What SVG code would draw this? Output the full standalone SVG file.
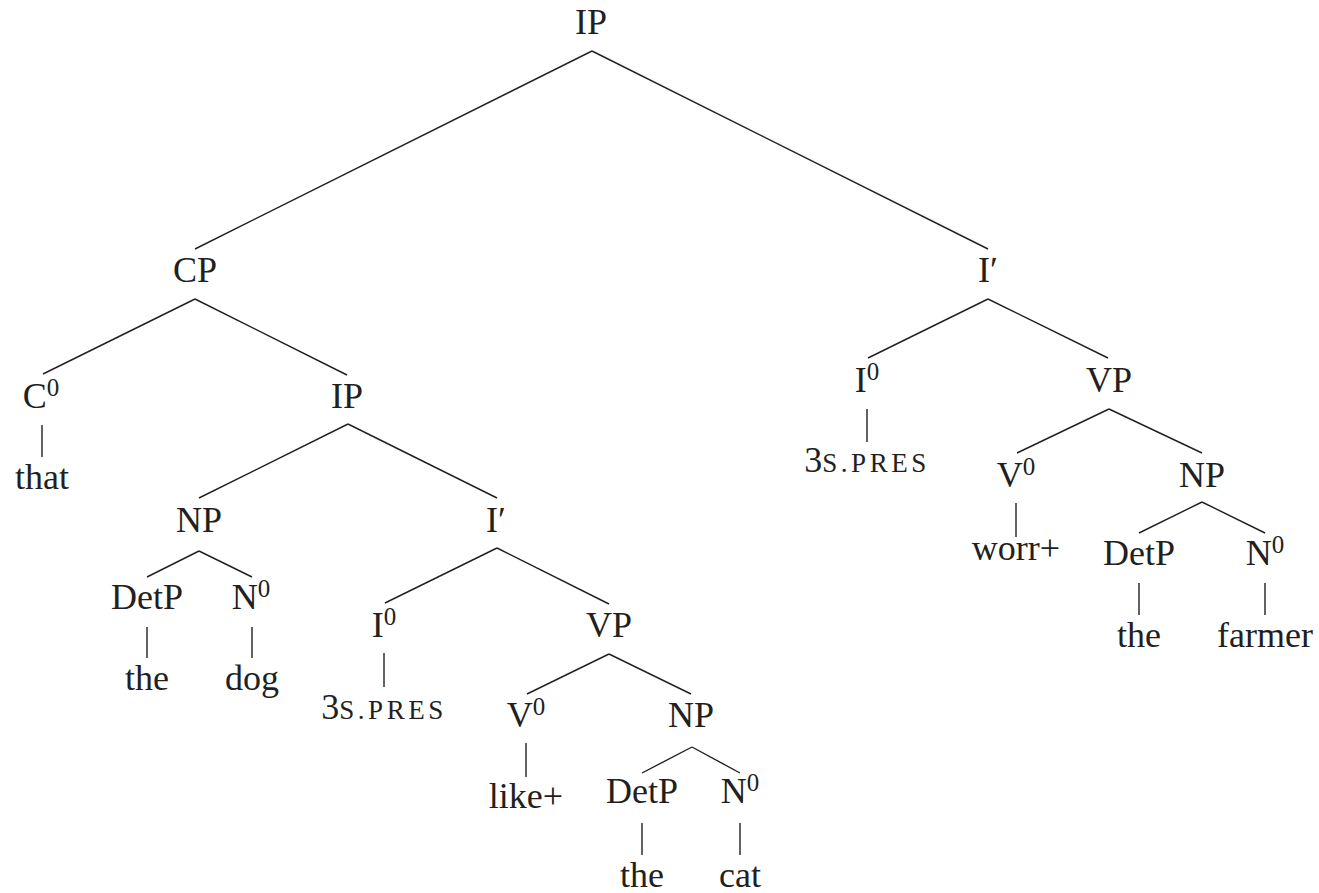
<svg xmlns="http://www.w3.org/2000/svg" width="1319" height="893" viewBox="0 0 1319 893" font-family="Liberation Serif, DejaVu Serif, serif">
<style>
text{font-size:36px;fill:#231f20;text-anchor:middle}
.sup{font-size:25px}
.sc{font-size:27px;letter-spacing:3.5px}
line{stroke:#231f20;stroke-width:1.4}
</style>
<rect width="1319" height="893" fill="#fff"/>
<g id="connectors">
<line x1="592" y1="51" x2="195" y2="249"/>
<line x1="592" y1="51" x2="988" y2="249"/>
<line x1="195" y1="299" x2="43" y2="374"/>
<line x1="195" y1="299" x2="347" y2="375"/>
<line x1="42" y1="425" x2="42" y2="457"/>
<line x1="348" y1="424" x2="199" y2="498"/>
<line x1="348" y1="424" x2="497" y2="498"/>
<line x1="199" y1="551" x2="147" y2="577"/>
<line x1="199" y1="551" x2="252" y2="577"/>
<line x1="147" y1="627" x2="147" y2="658"/>
<line x1="252" y1="627" x2="252" y2="658"/>
<line x1="497" y1="548" x2="385" y2="603"/>
<line x1="497" y1="548" x2="609" y2="604"/>
<line x1="384" y1="653" x2="384" y2="687"/>
<line x1="609" y1="654" x2="527" y2="694"/>
<line x1="609" y1="654" x2="691" y2="694"/>
<line x1="526" y1="743" x2="526" y2="777"/>
<line x1="692" y1="747" x2="642" y2="773"/>
<line x1="692" y1="747" x2="740" y2="773"/>
<line x1="642" y1="823" x2="642" y2="855"/>
<line x1="740" y1="823" x2="740" y2="855"/>
<line x1="988" y1="299" x2="868" y2="358"/>
<line x1="988" y1="299" x2="1108" y2="358"/>
<line x1="867" y1="409" x2="867" y2="442"/>
<line x1="1109" y1="409" x2="1017" y2="453"/>
<line x1="1109" y1="409" x2="1202" y2="453"/>
<line x1="1016" y1="503" x2="1016" y2="537"/>
<line x1="1202" y1="502" x2="1139" y2="533"/>
<line x1="1202" y1="502" x2="1265" y2="533"/>
<line x1="1139" y1="583" x2="1139" y2="615"/>
<line x1="1265" y1="583" x2="1265" y2="615"/>
</g>
<g id="n-ip-root"><text x="591" y="34">IP</text></g>
<g id="n-cp"><text x="195" y="282">CP</text></g>
<g id="n-c0"><text x="41" y="408">C<tspan class="sup" dy="-12">0</tspan></text></g>
<g id="n-that"><text x="42" y="489">that</text></g>
<g id="n-ip2"><text x="347" y="408">IP</text></g>
<g id="n-np1"><text x="199" y="532">NP</text></g>
<g id="n-detp1"><text x="147" y="609">DetP</text></g>
<g id="n-n01"><text x="251" y="609">N<tspan class="sup" dy="-12">0</tspan></text></g>
<g id="n-the1"><text x="147" y="690">the</text></g>
<g id="n-dog"><text x="252" y="690">dog</text></g>
<g id="n-ibar1"><text x="496" y="532">I′</text></g>
<g id="n-i01"><text x="384" y="637">I<tspan class="sup" dy="-12">0</tspan></text></g>
<g id="n-pres1"><text x="384" y="719">3<tspan class="sc">S.PRES</tspan></text></g>
<g id="n-vp1"><text x="609" y="637">VP</text></g>
<g id="n-v01"><text x="526" y="727">V<tspan class="sup" dy="-12">0</tspan></text></g>
<g id="n-like"><text x="526" y="808">like+</text></g>
<g id="n-np2"><text x="691" y="727">NP</text></g>
<g id="n-detp2"><text x="642" y="803">DetP</text></g>
<g id="n-n02"><text x="740" y="803">N<tspan class="sup" dy="-12">0</tspan></text></g>
<g id="n-the2"><text x="642" y="887">the</text></g>
<g id="n-cat"><text x="740" y="887">cat</text></g>
<g id="n-ibar2"><text x="988" y="282">I′</text></g>
<g id="n-i02"><text x="867" y="392">I<tspan class="sup" dy="-12">0</tspan></text></g>
<g id="n-pres2"><text x="867" y="472">3<tspan class="sc">S.PRES</tspan></text></g>
<g id="n-vp2"><text x="1109" y="392">VP</text></g>
<g id="n-v02"><text x="1016" y="487">V<tspan class="sup" dy="-12">0</tspan></text></g>
<g id="n-worr"><text x="1016" y="560">worr+</text></g>
<g id="n-np3"><text x="1202" y="487">NP</text></g>
<g id="n-detp3"><text x="1139" y="565">DetP</text></g>
<g id="n-n03"><text x="1265" y="565">N<tspan class="sup" dy="-12">0</tspan></text></g>
<g id="n-the3"><text x="1139" y="647">the</text></g>
<g id="n-farmer"><text x="1265" y="647">farmer</text></g>
</svg>
